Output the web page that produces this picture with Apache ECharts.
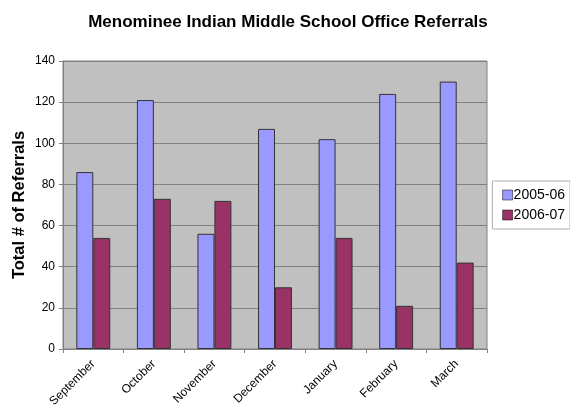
<!DOCTYPE html>
<html><head><meta charset="utf-8">
<script src="https://cdn.jsdelivr.net/npm/echarts@6/dist/echarts.min.js"></script>
<style>html,body{margin:0;padding:0;background:#fff}#c{width:570px;height:410px}</style>
</head><body><div id="c"></div>
<script>
var categories = ["September","October","November","December","January","February","March"];
var series0506 = [86,121,56,107,102,124,130];
var series0607 = [54,73,72,30,54,21,42];
var yTicks = [0,20,40,60,80,100,120,140];

var chart = echarts.init(document.getElementById('c'));
chart.setOption({
  animation:false,
  backgroundColor:'#fff',
  title:{text:'Menominee Indian Middle School Office Referrals',left:283,top:9,textAlign:'center',
    textStyle:{fontFamily:'Liberation Sans, Arial',fontSize:17,fontWeight:'bold',color:'#000'}},
  grid:{left:63,right:83,top:61,bottom:61,show:true,backgroundColor:'#c0c0c0',borderColor:'#808080',borderWidth:1},
  legend:{right:0,top:181,orient:'vertical',itemWidth:10,itemHeight:10,itemGap:6,
    padding:[7,5,7,10],borderColor:'#b0b0b0',borderWidth:1,backgroundColor:'#fff',
    textStyle:{fontFamily:'Liberation Sans, Arial',fontSize:14,color:'#000',padding:[0,0,0,-4]},
    icon:'rect',
    data:[{name:'2005-06',itemStyle:{borderColor:'#000',borderWidth:0.5}},{name:'2006-07',itemStyle:{borderColor:'#000',borderWidth:0.5}}]},
  xAxis:{type:'category',data:categories,
    axisLine:{lineStyle:{color:'#808080'}},
    axisTick:{show:true,length:4,lineStyle:{color:'#808080'}},
    axisLabel:{rotate:45,fontFamily:'Liberation Sans, Arial',fontSize:12,color:'#000',margin:13}},
  yAxis:{type:'value',min:yTicks[0],max:yTicks[yTicks.length-1],interval:20,
    name:'Total # of Referrals',nameLocation:'middle',nameGap:35,nameRotate:90,nameMoveOverlap:false,
    nameTextStyle:{fontFamily:'Liberation Sans, Arial',fontSize:16.5,fontWeight:'bold',color:'#000'},
    axisLine:{show:true,lineStyle:{color:'#808080'}},
    axisTick:{show:true,length:4,lineStyle:{color:'#808080'}},
    axisLabel:{fontFamily:'Liberation Sans, Arial',fontSize:12,color:'#000',margin:8},
    splitLine:{lineStyle:{color:'#808080',width:1}}},
  series:[
    {name:'2005-06',type:'bar',data:series0506,barGap:'0%',barCategoryGap:'44%',
      itemStyle:{color:'#9999ff',borderColor:'#333',borderWidth:1}},
    {name:'2006-07',type:'bar',data:series0607,barGap:'0%',barCategoryGap:'44%',
      itemStyle:{color:'#993366',borderColor:'#333',borderWidth:1}}
  ]
});
</script></body></html>
